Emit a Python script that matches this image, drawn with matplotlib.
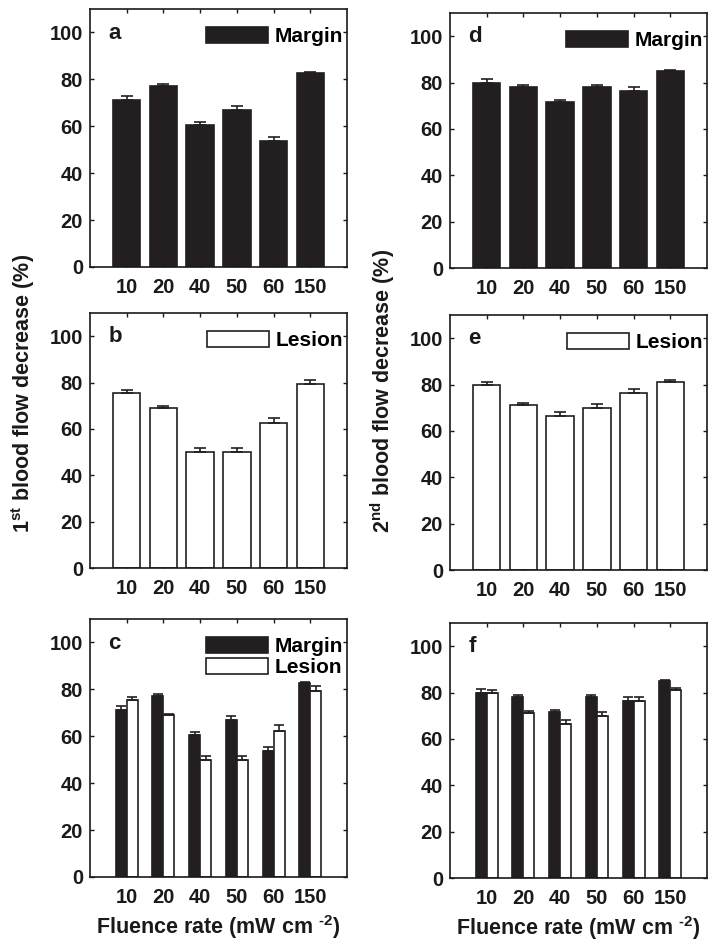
import numpy as np
import matplotlib
matplotlib.use("Agg")
import matplotlib.pyplot as plt
from matplotlib.patches import Patch

plt.rcParams['font.family'] = ['Liberation Sans', 'DejaVu Sans']
plt.rcParams['font.weight'] = 'bold'
plt.rcParams['mathtext.fontset'] = 'custom'
plt.rcParams['mathtext.rm'] = 'Liberation Sans:bold'
plt.rcParams['mathtext.it'] = 'Liberation Sans:bold'
plt.rcParams['mathtext.bf'] = 'Liberation Sans:bold'

rates = ['10', '20', '40', '50', '60', '150']
margin1 = [71.0, 77.1, 60.4, 67.0, 53.6, 82.7]
margin1_err = [1.9, 0.8, 1.5, 1.7, 1.8, 0.4]
lesion1 = [75.3, 68.9, 49.9, 49.9, 62.4, 79.2]
lesion1_err = [1.3, 0.8, 1.9, 1.9, 2.2, 2.1]
margin2 = [79.8, 78.2, 71.7, 78.2, 76.5, 84.9]
margin2_err = [1.7, 0.7, 0.8, 0.7, 1.5, 0.6]
lesion2 = [79.7, 71.1, 66.3, 69.7, 76.3, 81.3]
lesion2_err = [1.6, 0.9, 1.8, 1.7, 1.7, 0.7]

DARK = '#231f20'
INK = '#1a1a1a'

fig = plt.figure(figsize=(7.18, 9.51), dpi=100)
W, H = 718.0, 951.0

def make_ax(left, top, right, bottom):
    return fig.add_axes([left / W, 1 - bottom / H, (right - left) / W, (bottom - top) / H])

x = np.arange(1, len(rates) + 1)

def style(ax, letter):
    ax.set_xlim(0, 7)
    ax.set_ylim(0, 110)
    ax.set_xticks(x)
    ax.set_xticklabels(rates)
    ax.set_yticks([0, 20, 40, 60, 80, 100])
    ax.tick_params(direction='in', length=3, width=1, top=True, right=True,
                   labelsize=14.5, colors=INK, labelcolor=INK)
    ax.tick_params(axis='x', pad=8)
    ax.tick_params(axis='y', pad=5)
    for s in ax.spines.values():
        s.set_linewidth(1.2)
        s.set_color(INK)
    ax.text(0.072, 0.885, letter, transform=ax.transAxes, fontsize=16,
            fontweight='bold', color=INK, va='baseline', ha='left')

LEG = dict(loc='upper right', bbox_to_anchor=(1.0, 0.947), frameon=False,
           fontsize=15, handlelength=3.0, handleheight=0.8, handletextpad=0.3,
           borderaxespad=0.1, borderpad=0.1, labelspacing=0.1)

def single(ax, vals, errs, fill, label, letter):
    ax.bar(x, vals, width=0.75, color=fill, edgecolor=DARK, linewidth=1.2, zorder=2)
    ax.errorbar(x, vals, yerr=[np.zeros(len(vals)), errs], fmt='none',
                ecolor=DARK, elinewidth=1.2, capsize=4.3, capthick=1.2, zorder=3)
    style(ax, letter)
    h = [Patch(facecolor=fill, edgecolor=DARK, linewidth=1.2, label=label)]
    ax.legend(handles=h, **LEG)

def grouped(ax, mv, me, lv, le, letter, legend):
    w = 0.3
    ax.bar(x - w / 2, mv, width=w, color=DARK, edgecolor=DARK, linewidth=1.2, zorder=2)
    ax.bar(x + w / 2, lv, width=w, color='white', edgecolor=DARK, linewidth=1.2, zorder=2)
    ax.errorbar(x - w / 2, mv, yerr=[np.zeros(len(mv)), me], fmt='none',
                ecolor=DARK, elinewidth=1.2, capsize=3.5, capthick=1.2, zorder=3)
    ax.errorbar(x + w / 2, lv, yerr=[np.zeros(len(lv)), le], fmt='none',
                ecolor=DARK, elinewidth=1.2, capsize=3.5, capthick=1.2, zorder=3)
    style(ax, letter)
    if legend:
        h = [Patch(facecolor=DARK, edgecolor=DARK, linewidth=1.2, label='Margin'),
             Patch(facecolor='white', edgecolor=DARK, linewidth=1.2, label='Lesion')]
        ax.legend(handles=h, **LEG)
    ax.set_xlabel(r'Fluence rate (mW cm $^{\text{-2}}$)', fontsize=15.5, fontweight='bold',
                  color=INK, labelpad=4)

ax_a = make_ax(90, 9, 347, 267)
ax_d = make_ax(450, 13, 707, 268)
ax_b = make_ax(90, 313, 347, 568)
ax_e = make_ax(450, 315, 707, 570)
ax_c = make_ax(90, 619, 347, 877)
ax_f = make_ax(450, 623, 707, 878)

single(ax_a, margin1, margin1_err, DARK, 'Margin', 'a')
single(ax_b, lesion1, lesion1_err, 'white', 'Lesion', 'b')
grouped(ax_c, margin1, margin1_err, lesion1, lesion1_err, 'c', True)
single(ax_d, margin2, margin2_err, DARK, 'Margin', 'd')
single(ax_e, lesion2, lesion2_err, 'white', 'Lesion', 'e')
grouped(ax_f, margin2, margin2_err, lesion2, lesion2_err, 'f', False)

fig.text(23 / W, 1 - 393 / H, r'1$^{\mathrm{st}}$ blood flow decrease (%)', rotation=90,
         ha='center', va='center', fontsize=15.5, fontweight='bold', color=INK)
fig.text(383 / W, 1 - 391 / H, r'2$^{\mathrm{nd}}$ blood flow decrease (%)', rotation=90,
         ha='center', va='center', fontsize=15.5, fontweight='bold', color=INK)

fig.savefig('out.png', dpi=100, facecolor='white')
